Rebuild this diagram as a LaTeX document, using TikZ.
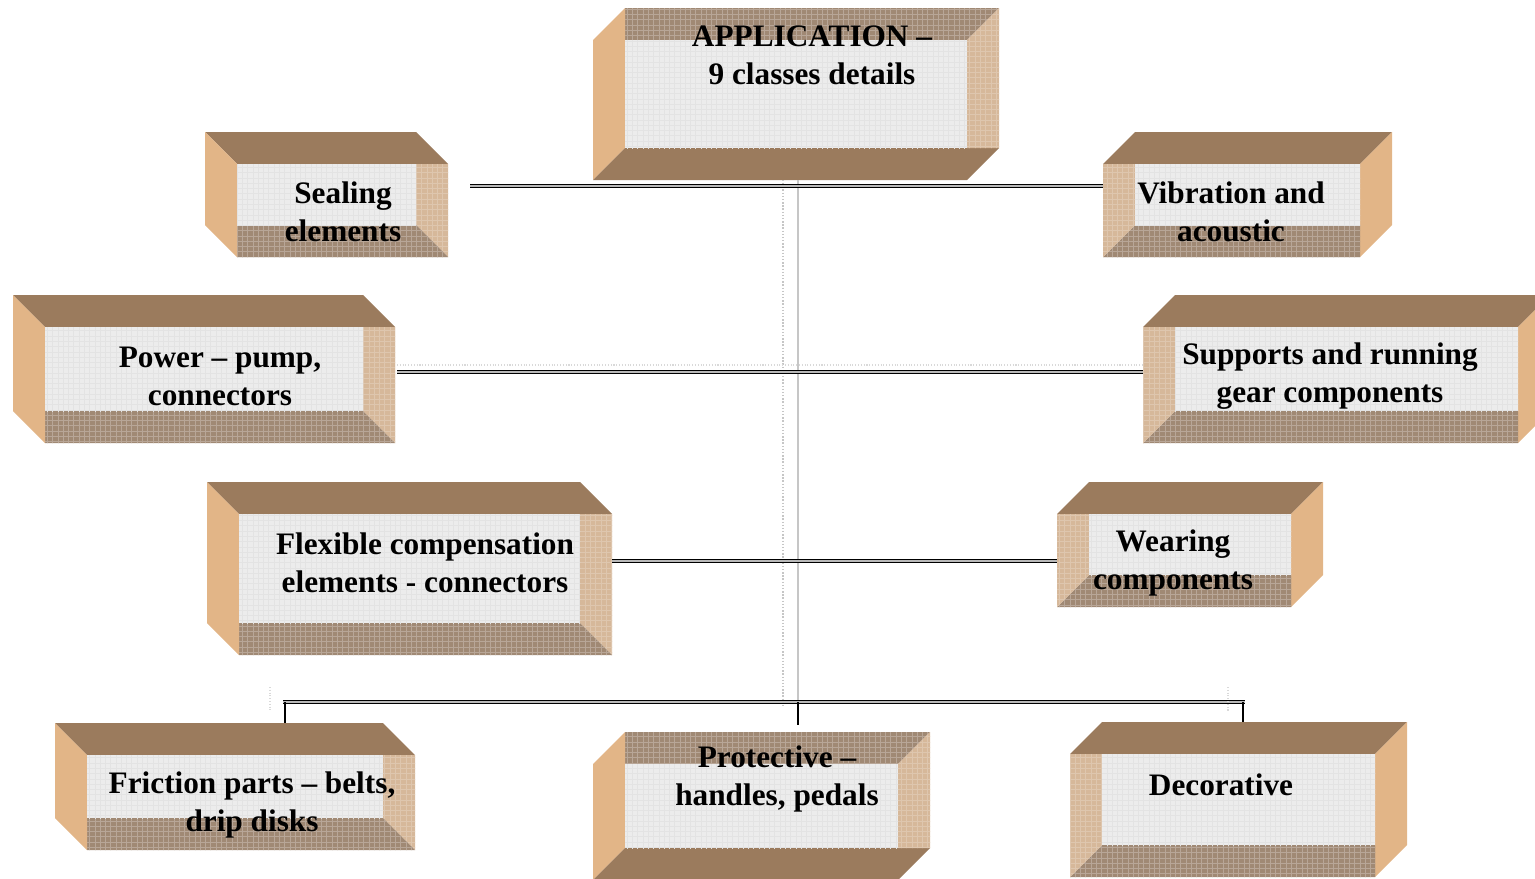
\documentclass[tikz,border=0pt]{standalone}
\usepackage{fontspec}
\setmainfont{Liberation Serif}
\usetikzlibrary{patterns,fit,calc}

\definecolor{facedark}{RGB}{155,123,93}
\definecolor{facetan}{RGB}{226,181,135}
\definecolor{facelight}{RGB}{214,184,154}
\definecolor{facemid}{RGB}{160,137,116}
\definecolor{frontgray}{RGB}{236,236,236}

\newcommand{\bev}{32}

% box, dark top, tan left (top-right and bottom-left cut)
\newcommand{\boxA}[5]{%
  \fill[darkface] (#2,#3) -- (#4-\bev,#3) -- (#4,#3+\bev) -- (#2+\bev,#3+\bev) -- cycle;
  \fill[lightface] (#4-\bev,#3+\bev) -- (#4,#3+\bev) -- (#4,#5) -- (#4-\bev,#5-\bev) -- cycle;
  \fill[mottled] (#2+\bev,#5-\bev) -- (#4-\bev,#5-\bev) -- (#4,#5) -- (#2+\bev,#5) -- cycle;
  \fill[tanface] (#2,#3) -- (#2+\bev,#3+\bev) -- (#2+\bev,#5) -- (#2,#5-\bev) -- cycle;
  \fill[front] (#2+\bev,#3+\bev) rectangle (#4-\bev,#5-\bev);
  \node[boxnode, fit={(#2,#3) (#4,#5)}] (#1) {};
}
% box, dark top, tan right (top-left and bottom-right cut)
\newcommand{\boxB}[5]{%
  \fill[darkface] (#2+\bev,#3) -- (#4,#3) -- (#4-\bev,#3+\bev) -- (#2,#3+\bev) -- cycle;
  \fill[tanface] (#4-\bev,#3+\bev) -- (#4,#3) -- (#4,#5-\bev) -- (#4-\bev,#5) -- cycle;
  \fill[mottled] (#2,#5) -- (#4-\bev,#5) -- (#4-\bev,#5-\bev) -- (#2+\bev,#5-\bev) -- cycle;
  \fill[lightface] (#2,#3+\bev) -- (#2+\bev,#3+\bev) -- (#2+\bev,#5-\bev) -- (#2,#5) -- cycle;
  \fill[front] (#2+\bev,#3+\bev) rectangle (#4-\bev,#5-\bev);
  \node[boxnode, fit={(#2,#3) (#4,#5)}] (#1) {};
}
% box, dark bottom (top-left and bottom-right cut)
\newcommand{\boxC}[5]{%
  \fill[mottled] (#2+\bev,#3) -- (#4,#3) -- (#4-\bev,#3+\bev) -- (#2+\bev,#3+\bev) -- cycle;
  \fill[tanface] (#2,#3+\bev) -- (#2+\bev,#3) -- (#2+\bev,#5-\bev) -- (#2,#5) -- cycle;
  \fill[darkface] (#2,#5) -- (#4-\bev,#5) -- (#4,#5-\bev) -- (#2+\bev,#5-\bev) -- cycle;
  \fill[lightface] (#4-\bev,#3+\bev) -- (#4,#3) -- (#4,#5-\bev) -- (#4-\bev,#5-\bev) -- cycle;
  \fill[front] (#2+\bev,#3+\bev) rectangle (#4-\bev,#5-\bev);
  \node[boxnode, fit={(#2,#3) (#4,#5)}] (#1) {};
}

\begin{document}
\begin{tikzpicture}[x=0.02cm, y=-0.02cm,
  darkface/.style={fill=facedark},
  tanface/.style={fill=facetan},
  lightface/.style={fill=facelight, postaction={pattern=grid, pattern color=facelight!80!white}},
  mottled/.style={fill=facemid, postaction={pattern=grid, pattern color=facemid!75!white}},
  front/.style={fill=frontgray, postaction={pattern=grid, pattern color=gray!22}},
  boxnode/.style={inner sep=0pt, outer sep=0pt},
  lbl/.style={font=\fontsize{17.8}{21.6}\selectfont\bfseries, align=center, inner sep=0pt},
  link/.style={draw=black, line width=0.8pt, double=gray!55, double distance=0.8pt},
  trunk/.style={draw=gray!45, line width=0.8pt},
  ghost/.style={draw=gray!30, line width=0.6pt, densely dotted},
  drop/.style={draw=black, line width=1.2pt}]
\useasboundingbox (0,0) rectangle (1535,879);

% boxes
\boxC{app}{593}{8}{999}{180}
\boxA{seal}{205}{132}{448}{257}
\boxB{vib}{1103}{132}{1392}{257}
\boxA{power}{13}{295}{395}{443}
\boxB{supp}{1143}{295}{1550}{443}
\boxA{flex}{207}{482}{612}{655}
\boxB{wear}{1057}{482}{1323}{607}
\boxA{fric}{55}{723}{415}{850}
\boxC{prot}{593}{732}{930}{880}
\boxB{deco}{1070}{722}{1407}{877}

% labels
\node[lbl] (app-t) at (812,55) {APPLICATION --\\9 classes details};
\node[lbl] (seal-t) at (343,212) {Sealing\\elements};
\node[lbl] (vib-t) at (1231,212) {Vibration and\\acoustic};
\node[lbl] (power-t) at (220,376) {Power -- pump,\\connectors};
\node[lbl] (supp-t) at (1330,376) {Supports and running\\gear components};
\node[lbl] (flex-t) at (425,563) {Flexible compensation\\elements - connectors};
\node[lbl] (wear-t) at (1173,563) {Wearing\\components};
\node[lbl] (fric-t) at (252,805) {Friction parts -- belts,\\drip disks};
\node[lbl] (prot-t) at (777,779) {Protective --\\handles, pedals};
\node[lbl] (deco-t) at (1221,785) {Decorative};

% connectors
\coordinate (r1) at (0,186);
\coordinate (r2) at (0,372);
\coordinate (r3) at (0,561);
\coordinate (fj) at (285,702);
\coordinate (hub) at (798,702);
\coordinate (dj) at (1243,702);

\draw[trunk] (app.south -| hub) -- (hub);
\draw[trunk, densely dotted] ($(app.south -| hub)+(-15,0)$) -- ($(hub)+(-15,6)$);

\draw[link] ($(seal.east |- r1)+(22,0)$) -- (vib.west |- r1);
\draw[ghost] ($(power.east |- r2)+(2,-7)$) -- ($(supp.west |- r2)+(0,-7)$);
\draw[link] ($(power.east |- r2)+(2,0)$) -- (supp.west |- r2);
\draw[link] (flex.east |- r3) -- (wear.west |- r3);

\draw[link] ($(fj)+(-2,0)$) -- ($(dj)+(2,0)$);
\draw[drop] (fj) -- (fric.north -| fj);
\draw[drop] (hub) -- ($(prot.north -| hub)+(0,-7)$);
\draw[drop] (dj) -- (deco.north -| dj);
\draw[ghost] (270,687) -- (270,710);
\draw[ghost] (1228,687) -- (1228,712);
\end{tikzpicture}
\end{document}
